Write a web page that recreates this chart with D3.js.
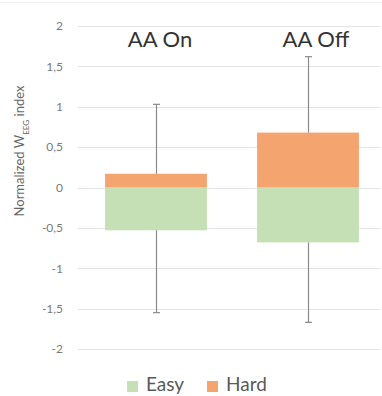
<!DOCTYPE html>
<html>
<head>
<meta charset="utf-8">
<script src="https://cdn.jsdelivr.net/npm/d3@7/dist/d3.min.js"></script>
<style>
  html, body { margin: 0; padding: 0; background: #fff; }
  svg { display: block; font-family: Lato, "Open Sans", sans-serif; }
</style>
</head>
<body>
<svg id="chart" width="382" height="396"></svg>
<script>
// Conditions and stacked components of the normalized index
const categories = ["AA On", "AA Off"];
const easyValues = [-0.53, -0.68];
const hardValues = [0.17, 0.68];
const whiskerHigh = [1.03, 1.62];
const whiskerLow = [-1.55, -1.67];
const yTicks = [-2, -1.5, -1, -0.5, 0, 0.5, 1, 1.5, 2];
const seriesNames = ["Easy", "Hard"];
const seriesColors = ["#c5e0b4", "#f4a46f"];

const svg = d3.select("#chart");

const x = d3.scaleBand()
  .domain(categories)
  .range([80, 384])
  .paddingInner(0.33)
  .paddingOuter(0.165);

const y = d3.scaleLinear()
  .domain([-2, 2])
  .range([349, 26]);

const fmt = v => String(v).replace(".", ",");

// faint chart frame line at top
svg.append("line")
  .attr("x1", 0).attr("x2", 382)
  .attr("y1", 2.5).attr("y2", 2.5)
  .attr("stroke", "#efefef").attr("stroke-width", 1);

// gridlines
svg.append("g")
  .selectAll("line")
  .data(yTicks)
  .join("line")
  .attr("x1", 78).attr("x2", 380)
  .attr("y1", d => Math.round(y(d)) + 0.5)
  .attr("y2", d => Math.round(y(d)) + 0.5)
  .attr("stroke", "#e3e3e3")
  .attr("stroke-width", 1.2);

// y axis labels
const yAxis = d3.axisLeft(y).tickValues(yTicks).tickFormat(fmt).tickSize(0).tickPadding(0);
const gy = svg.append("g")
  .attr("transform", "translate(63,0)")
  .call(yAxis);
gy.select(".domain").remove();
gy.selectAll("text")
  .attr("fill", "#7a7a7a")
  .style("font-size", "12px")
  .style("font-family", "Lato, 'Open Sans', sans-serif");

// y axis title
const title = svg.append("text")
  .attr("transform", "translate(24,151) rotate(-90)")
  .attr("text-anchor", "middle")
  .attr("fill", "#666")
  .style("font-size", "13px");
title.append("tspan").text("Normalized W");
title.append("tspan").attr("baseline-shift", "sub").style("font-size", "8px").text("EEG");
title.append("tspan").text(" index");

// stacked bars
const stacked = [easyValues, hardValues];
stacked.forEach((vals, si) => {
  svg.append("g")
    .selectAll("rect")
    .data(categories)
    .join("rect")
    .attr("x", d => x(d))
    .attr("width", x.bandwidth())
    .attr("y", (d, i) => y(Math.max(0, vals[i])))
    .attr("height", (d, i) => Math.abs(y(vals[i]) - y(0)))
    .attr("fill", seriesColors[si]);
});

// whiskers
const wg = svg.append("g").attr("stroke", "#8a8a8a").attr("stroke-width", 1.2);
categories.forEach((c, i) => {
  const cx = Math.round(x(c) + x.bandwidth() / 2) + 0.5;
  wg.append("line")
    .attr("x1", cx).attr("x2", cx)
    .attr("y1", y(whiskerHigh[i])).attr("y2", y(hardValues[i]));
  wg.append("line")
    .attr("x1", cx).attr("x2", cx)
    .attr("y1", y(easyValues[i])).attr("y2", y(whiskerLow[i]));
  [whiskerHigh[i], whiskerLow[i]].forEach(v => {
    wg.append("line")
      .attr("x1", cx - 3.5).attr("x2", cx + 3.5)
      .attr("y1", y(v)).attr("y2", y(v));
  });
});

// condition labels above bars
svg.append("g")
  .selectAll("text")
  .data(categories)
  .join("text")
  .attr("x", (d, i) => x(d) + x.bandwidth() / 2 + (i === 0 ? 4 : 8))
  .attr("y", 47)
  .attr("text-anchor", "middle")
  .attr("fill", "#333")
  .style("font-size", "22px")
  .text(d => d);

// legend
const legendX = [127, 207];
const lg = svg.append("g");
seriesNames.forEach((name, i) => {
  lg.append("rect")
    .attr("x", legendX[i]).attr("y", 381)
    .attr("width", 11).attr("height", 11)
    .attr("fill", seriesColors[i]);
  lg.append("text")
    .attr("x", legendX[i] + 19).attr("y", 391)
    .attr("fill", "#595959")
    .style("font-size", "19px")
    .text(name);
});
</script>
</body>
</html>
